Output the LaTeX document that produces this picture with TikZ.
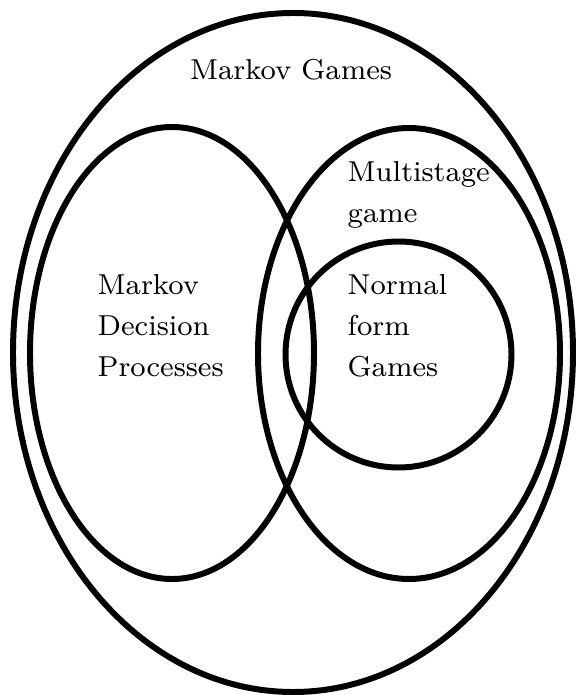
\documentclass[tikz,border=0pt]{standalone}
\tikzset{
  ensemble/.style={line width=1.7pt},
  etiquette/.style={align=left, inner sep=0pt, font=\fontsize{8.2}{11.7}\selectfont}
}
\begin{document}
\begin{tikzpicture}
    % cadre
    \useasboundingbox (0,0) rectangle (5.81,6.95);
    % centres des ensembles
    \coordinate (MG) at (2.93,3.425);
    \coordinate (MDP) at (1.72,3.42);
    \coordinate (MS) at (4.09,3.415);
    \coordinate (NF) at (3.985,3.405);
    % tracer
    \draw[ensemble] (MG) ellipse [x radius=2.80, y radius=3.395];
    \draw[ensemble] (MDP) ellipse [x radius=1.42, y radius=2.26];
    \draw[ensemble] (MS) ellipse [x radius=1.51, y radius=2.255];
    \draw[ensemble] (NF) circle [radius=1.13];
    % étiquettes
    \node[etiquette,anchor=base] (lMG) at (2.91,6.15) {Markov Games};
    \node[etiquette,anchor=west] (lMS) at (3.47,5.00) {Multistage\\game};
    \node[etiquette,anchor=west] (lMDP) at (0.97,3.69) {Markov\\Decision\\Processes};
    \node[etiquette,anchor=west] (lNF) at (3.47,3.69) {Normal\\form\\Games};
\end{tikzpicture}
\end{document}
